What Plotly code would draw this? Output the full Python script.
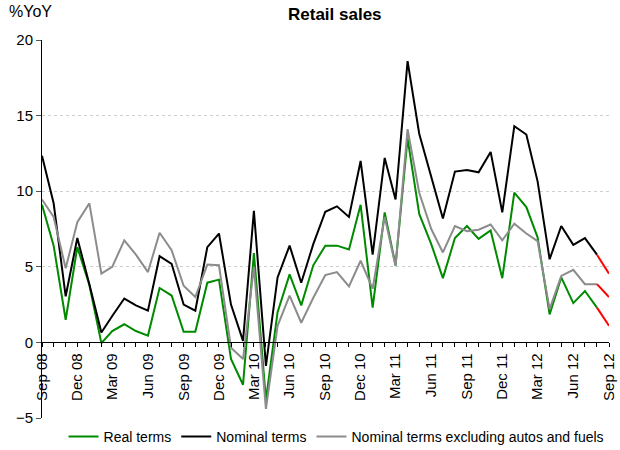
import pandas as pd
import plotly.graph_objects as go

# Monthly year-on-year growth, Sep 2008 - Sep 2012
months = pd.date_range("2008-09-01", periods=49, freq="MS")

real_terms = [
    9.1, 6.4, 1.5, 6.3, 3.8, -0.05, 0.75, 1.2, 0.75, 0.45, 3.6, 3.1, 0.7,
    0.7, 3.95, 4.15, -1.1, -2.8, 5.9, -3.8, 2.0, 4.5, 2.45, 5.1, 6.4, 6.4,
    6.15, 9.1, 2.3, 8.6, 5.1, 13.5, 8.5, 6.5, 4.25, 6.9, 7.7, 6.85, 7.4,
    4.25, 9.9, 8.95, 6.95, 1.85, 4.3, 2.6, 3.4, 2.3, 1.1,
]
nominal_terms = [
    12.35, 9.2, 3.05, 6.9, 3.85, 0.65, 1.75, 2.9, 2.45, 2.1, 5.7, 5.2, 2.5,
    2.1, 6.3, 7.2, 2.5, 0.1, 8.7, -1.55, 4.3, 6.4, 3.95, 6.5, 8.64, 9.0,
    8.3, 12.0, 5.8, 12.2, 9.45, 18.6, 13.8, 11.0, 8.2, 11.3, 11.4, 11.25,
    12.6, 8.6, 14.3, 13.75, 10.65, 5.5, 7.7, 6.45, 6.9, 5.8, 4.55,
]
nominal_ex_autos_fuels = [
    9.45, 8.3, 4.9, 7.95, 9.2, 4.55, 5.0, 6.75, 5.8, 4.65, 7.25, 6.1, 3.75,
    3.0, 5.15, 5.1, -0.35, -1.1, 5.0, -4.4, 1.1, 3.1, 1.3, 2.95, 4.45, 4.65,
    3.7, 5.4, 3.55, 8.3, 5.05, 14.1, 9.9, 7.5, 5.95, 7.7, 7.35, 7.45, 7.8,
    6.75, 7.85, 7.2, 6.7, 2.2, 4.4, 4.8, 3.85, 3.85, 3.0,
]

series = [
    ("Real terms", real_terms, "#008a00"),
    ("Nominal terms", nominal_terms, "#000000"),
    ("Nominal terms excluding autos and fuels", nominal_ex_autos_fuels, "#8c8c8c"),
]
forecast_color = "#ff0000"

fig = go.Figure()
# last month of each series is drawn as a red forecast segment
for name, vals, col in series:
    fig.add_trace(go.Scatter(
        x=months[:-1], y=vals[:-1], mode="lines", name=name,
        line=dict(color=col, width=2),
    ))
for name, vals, col in series:
    fig.add_trace(go.Scatter(
        x=months[-2:], y=vals[-2:], mode="lines", showlegend=False,
        line=dict(color=forecast_color, width=2), hoverinfo="skip",
    ))

y_min, y_max = -5, 20
narrow = "Liberation Sans Narrow, Arial Narrow, Liberation Sans, Arial, sans-serif"

fig.update_layout(
    width=620, height=450,
    margin=dict(l=42, r=11, t=40, b=32, autoexpand=False),
    paper_bgcolor="white", plot_bgcolor="white",
    font=dict(family="Liberation Sans, Arial, sans-serif", color="#000000", size=14),
    title=dict(text="<b>Retail sales</b>", x=0.54, xanchor="center", y=0.968,
               yanchor="middle", font=dict(size=17)),
    showlegend=True,
    legend=dict(orientation="h", x=0.038, xanchor="left", y=-0.05, yanchor="middle",
                font=dict(family=narrow, size=14), itemwidth=30,
                tracegroupgap=0, bgcolor="rgba(0,0,0,0)"),
    xaxis=dict(
        type="date",
        range=[months[0], months[-1]],
        anchor="free", position=(0 - y_min) / (y_max - y_min),
        showline=True, linecolor="black", linewidth=1,
        showgrid=False, zeroline=False,
        tick0=months[0], dtick="M3", tickformat="%b %y",
        ticks="outside", ticklen=4, tickcolor="black",
        tickangle=-90, tickfont=dict(family=narrow, size=15),
        minor=dict(dtick="M1", ticks="outside", ticklen=4, tickcolor="black", showgrid=False),
    ),
    yaxis=dict(
        range=[y_min, y_max], tickvals=[-5, 0, 5, 10, 15, 20],
        showline=True, linecolor="black", linewidth=1,
        ticks="outside", ticklen=5, tickcolor="#555555",
        showgrid=True, gridcolor="#cfcfcf", griddash="dot", gridwidth=1,
        zeroline=False, tickfont=dict(size=15),
    ),
)

fig.add_annotation(text="%YoY", xref="paper", yref="paper", x=-0.062, y=1.075,
                   xanchor="left", yanchor="middle", showarrow=False,
                   font=dict(size=16))

fig.write_html("out.html")
